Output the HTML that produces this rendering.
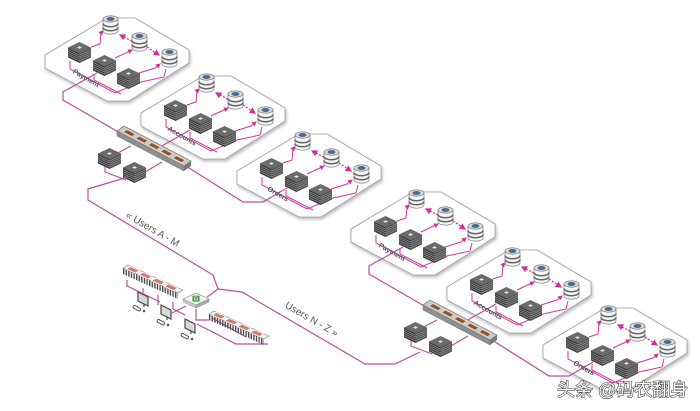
<!DOCTYPE html>
<html><head><meta charset="utf-8">
<style>
html,body{margin:0;padding:0;background:#fff;}
svg{display:block;}
</style></head>
<body>
<svg width="700" height="411" viewBox="0 0 700 411" xmlns="http://www.w3.org/2000/svg" xmlns:xlink="http://www.w3.org/1999/xlink" font-family="'Liberation Sans', sans-serif">
<defs>
 <filter id="sh" x="-10%" y="-15%" width="130%" height="145%">
   <feDropShadow dx="1" dy="2" stdDeviation="1.5" flood-color="#000" flood-opacity="0.28"/>
 </filter>
 <marker id="ah" viewBox="0 0 10 10" refX="8" refY="5" markerWidth="5" markerHeight="5" orient="auto">
   <path d="M0,0 L10,5 L0,10 z" fill="#d2309a"/>
 </marker>
 <pattern id="teeth" width="2.6" height="10" patternUnits="userSpaceOnUse">
   <rect x="0" y="0" width="1.4" height="10" fill="#4a4a4a"/>
 </pattern>
 <g id="srv">
  <polygon points="0,5.5 11.5,0 23,5.5 11.5,11" fill="#6a6a6a"/>
  <polygon points="0,5.5 11.5,11 11.5,21 0,15.5" fill="#3a3a3a"/>
  <polygon points="11.5,11 23,5.5 23,15.5 11.5,21" fill="#4e4e4e"/>
  <path d="M0,7.5 L11.5,13 L23,7.5 M0,9.5 L11.5,15 L23,9.5 M0,11.5 L11.5,17 L23,11.5 M0,13.5 L11.5,19 L23,13.5" fill="none" stroke="#a0a0a0" stroke-width="0.6"/>
  <polygon points="9,5.5 11.5,4.2 14,5.5 11.5,6.8" fill="#e6e6e6"/>
 </g>
 <g id="db">
  <path d="M0,4 V16 A7.5,3.2 0 0 0 15,16 V4 Z" fill="#f6f6f6" stroke="#6a6a6a" stroke-width="0.6"/>
  <path d="M0,8.5 A7.5,3.2 0 0 0 15,8.5" fill="none" stroke="#666" stroke-width="1.5"/>
  <path d="M0,12.5 A7.5,3.2 0 0 0 15,12.5" fill="none" stroke="#666" stroke-width="1.5"/>
  <ellipse cx="7.5" cy="4" rx="7.5" ry="3.2" fill="#dcdcdc" stroke="#6a6a6a" stroke-width="0.6"/>
  <ellipse cx="7.5" cy="4" rx="4" ry="2" fill="#4b6d92"/>
 </g>
 <g id="pc">
  <polygon points="0,0 62,-37 90,-37 144,-5 144,8 84,46 62,46 0,13" fill="#fff" stroke="#9c9c9c" stroke-width="0.8" filter="url(#sh)"/>
  <g fill="none" stroke="#d2359b" stroke-width="1">
   <path d="M25,6 V14 L70,38 L96,27 L119,22 L121,14"/>
   <path d="M49,19 V25 L76,39"/>
   <path d="M46,-8 L55,-11 L56,-22 L58,-24" marker-end="url(#ah)"/>
   <path d="M70,3 L87,-5" marker-end="url(#ah)"/>
   <path d="M94,18 L110,13 L115,9" marker-end="url(#ah)"/>
   <path d="M87,-14 L75,-20" stroke-dasharray="2,1.5" stroke-width="1.3" marker-end="url(#ah)"/>
   <path d="M102,-8 L114,0" stroke-dasharray="2,1.5" stroke-width="1.3" marker-end="url(#ah)"/>
  </g>
  <use href="#db" x="58" y="-40"/>
  <use href="#db" x="87" y="-23"/>
  <use href="#db" x="117" y="-7"/>
  <use href="#srv" x="23" y="-13"/>
  <use href="#srv" x="48" y="0"/>
  <use href="#srv" x="72" y="13"/>
 </g>
 <polygon id="mod" points="-6.2,-1 2.6,3.6 6.2,1 -2.6,-3.6" fill="#8a5634" stroke="#e8d6c2" stroke-width="0.8"/>
 <g id="sw">
  <polygon points="0,5 7,0 74,35 67,40" fill="#c9c9c9" stroke="#6f6f6f" stroke-width="0.7"/>
  <polygon points="0,5 67,40 67,45 0,10" fill="#8f8f8f" stroke="#6f6f6f" stroke-width="0.5"/>
  <polygon points="67,40 74,35 74,40 67,45" fill="#777"/>
  <use href="#mod" x="12.4" y="7.1"/>
  <use href="#mod" x="24.8" y="13.6"/>
  <use href="#mod" x="37.2" y="20.1"/>
  <use href="#mod" x="49.6" y="26.6"/>
  <use href="#mod" x="62" y="33.1"/>
 </g>
 <polygon id="rmod" points="-6.7,-0.7 2.5,3.3 6.7,0.7 -2.5,-3.3" fill="#d27b74" stroke="#fff" stroke-width="0.8"/>
 <g id="pp">
  <polygon points="0,3 55,28 55,34 0,9" fill="url(#teeth)"/>
  <polygon points="0,3 5,0 60,25 55,28" fill="#eee" stroke="#888" stroke-width="0.6"/>
  <use href="#rmod" x="9.8" y="4.8"/>
  <use href="#rmod" x="22.5" y="10.6"/>
  <use href="#rmod" x="35.3" y="16.4"/>
  <use href="#rmod" x="48" y="22.2"/>
 </g>
 <g id="mon">
  <polygon points="0,0 10,5 10,14 0,9" fill="#d8d8d8" stroke="#4a4a4a" stroke-width="1.2"/>
  <path d="M6,12 V15" stroke="#4a4a4a" stroke-width="1.2"/>
 </g>
 <g id="km">
  <rect x="0" y="0" width="8" height="3" rx="1.5" fill="none" stroke="#555" stroke-width="1" transform="rotate(28)"/>
  <circle cx="10" cy="6" r="1.3" fill="#555"/>
 </g>
 <g id="grp">
  <use href="#pc" transform="translate(45,55)"/>
  <use href="#pc" transform="translate(141,113)"/>
  <use href="#pc" transform="translate(237,171)"/>
  <g fill="none" stroke="#b9509c" stroke-width="1.2">
   <path d="M97,73 L63,92 L63,100 L120,133"/>
   <path d="M190,130 L160,147"/>
   <path d="M186,166 L243,202 L263,202 L287,188"/>
   <path d="M114,155 L131,146 M145,172 L162,162"/>
   <path d="M105,165 V172 L126,180"/>
  </g>
  <use href="#sw" x="117" y="126"/>
  <use href="#srv" x="98" y="148"/>
  <use href="#srv" x="123" y="162"/>
 </g>
</defs>

<rect width="700" height="411" fill="#fff"/>

<use href="#grp"/>
<use href="#grp" transform="translate(306,174)"/>

<!-- panel labels -->
<g font-size="7" font-weight="bold" fill="#555" text-anchor="middle">
 <text transform="translate(85,80) rotate(30)">Payment</text>
 <text transform="translate(181,138) rotate(30)">Accounts</text>
 <text transform="translate(277,196) rotate(30)">Orders</text>
 <text transform="translate(391,254) rotate(30)">Payment</text>
 <text transform="translate(487,312) rotate(30)">Accounts</text>
 <text transform="translate(583,370) rotate(30)">Orders</text>
</g>

<!-- user connection lines -->
<g fill="none" stroke="#b9509c" stroke-width="1.2">
 <path d="M128,177 L88,189 L88,200 L213,275 L218,289"/>
 <path d="M218,289 L207,297"/>
 <path d="M218,289 L242,292 L365,364 L395,364 L420,352"/>
 <path d="M127,280 V286 L160,302"/>
 <path d="M143,288 V293"/>
 <path d="M158,295 V305"/>
 <path d="M173,302 V309 L185,315"/>
 <path d="M186,306 L172,313"/>
 <path d="M196,309 V320 L209,320"/>
 <path d="M197,324 L236,344 L268,344"/>
 <path d="M212,318 L246,337"/>
</g>

<!-- gateway area -->
<use href="#pp" x="123" y="265"/>
<use href="#pp" x="209" y="311"/>
<use href="#mon" x="138" y="292"/>
<use href="#mon" x="161" y="305"/>
<use href="#mon" x="185" y="319"/>
<use href="#km" x="134" y="305"/>
<use href="#km" x="158" y="319"/>
<use href="#km" x="182" y="333"/>
<g transform="translate(183,293)">
 <polygon points="0,6 13,0 26,6 13,12" fill="#f2f2f2" stroke="#888" stroke-width="0.6"/>
 <polygon points="0,6 13,12 13,15 0,9" fill="#c8c8c8" stroke="#888" stroke-width="0.4"/>
 <polygon points="13,12 26,6 26,9 13,15" fill="#a8a8a8" stroke="#888" stroke-width="0.4"/>
 <rect x="9.5" y="2.6" width="7" height="6" rx="1" fill="#3b9a3b"/>
 <text x="13" y="7.6" font-size="5.5" font-weight="bold" fill="#fff" text-anchor="middle">G</text>
</g>

<!-- user labels -->
<g font-size="10" fill="#555" text-anchor="middle">
 <text transform="translate(151,232) rotate(30)">« Users A - M</text>
 <text transform="translate(310,322) rotate(30)">Users N - Z  »</text>
</g>

<!-- watermark -->
<text x="557" y="396" font-size="18" font-family="'Liberation Sans','Noto Sans CJK SC',sans-serif" fill="#fff" stroke="#3a3a3a" stroke-width="1.1" paint-order="stroke">头条 @码农翻身</text>
</svg>
</body></html>
